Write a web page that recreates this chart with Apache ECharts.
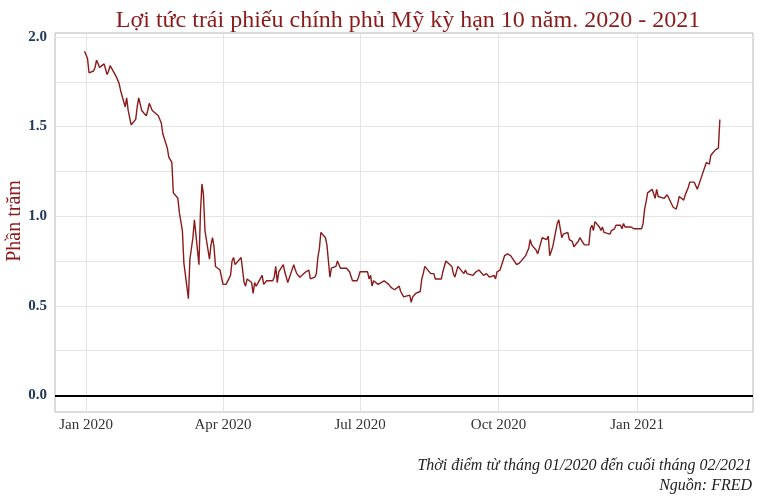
<!DOCTYPE html>
<html>
<head>
<meta charset="utf-8">
<script src="https://cdn.jsdelivr.net/npm/echarts@6/dist/echarts.min.js"></script>
<style>html,body{margin:0;padding:0;background:#fff}#c{width:760px;height:500px}</style>
</head>
<body>
<div id="c"></div>
<script>
const titleText = 'Lợi tức trái phiếu chính phủ Mỹ kỳ hạn 10 năm. 2020 - 2021';
const yAxisName = 'Phần trăm';
const captionLines = ['Thời điểm từ tháng 01/2020 đến cuối tháng 02/2021', 'Nguồn: FRED'];
const xTickDates = ['2020-01-01', '2020-04-01', '2020-07-01', '2020-10-01', '2021-01-01'];
const xTickLabels = ['Jan 2020', 'Apr 2020', 'Jul 2020', 'Oct 2020', 'Jan 2021'];
const yTickValues = [0, 0.5, 1.0, 1.5, 2.0];
const yGridValues = [0, 0.25, 0.5, 0.75, 1.0, 1.25, 1.5, 1.75, 2.0];

const dates = [
'2019-12-31',
'2020-01-02','2020-01-03','2020-01-06','2020-01-07','2020-01-08','2020-01-09','2020-01-10','2020-01-13','2020-01-14','2020-01-15','2020-01-16','2020-01-17','2020-01-21','2020-01-22','2020-01-23','2020-01-24','2020-01-27','2020-01-28','2020-01-29','2020-01-30','2020-01-31',
'2020-02-03','2020-02-04','2020-02-05','2020-02-06','2020-02-07','2020-02-10','2020-02-11','2020-02-12','2020-02-13','2020-02-14','2020-02-18','2020-02-19','2020-02-20','2020-02-21','2020-02-24','2020-02-25','2020-02-26','2020-02-27','2020-02-28',
'2020-03-02','2020-03-03','2020-03-04','2020-03-05','2020-03-06','2020-03-09','2020-03-10','2020-03-11','2020-03-12','2020-03-13','2020-03-16','2020-03-17','2020-03-18','2020-03-19','2020-03-20','2020-03-23','2020-03-24','2020-03-25','2020-03-26','2020-03-27','2020-03-30','2020-03-31',
'2020-04-01','2020-04-02','2020-04-03','2020-04-06','2020-04-07','2020-04-08','2020-04-09','2020-04-13','2020-04-14','2020-04-15','2020-04-16','2020-04-17','2020-04-20','2020-04-21','2020-04-22','2020-04-23','2020-04-24','2020-04-27','2020-04-28','2020-04-29','2020-04-30',
'2020-05-01','2020-05-04','2020-05-05','2020-05-06','2020-05-07','2020-05-08','2020-05-11','2020-05-12','2020-05-13','2020-05-14','2020-05-15','2020-05-18','2020-05-19','2020-05-20','2020-05-21','2020-05-22','2020-05-26','2020-05-27','2020-05-28','2020-05-29',
'2020-06-01','2020-06-02','2020-06-03','2020-06-04','2020-06-05','2020-06-08','2020-06-09','2020-06-10','2020-06-11','2020-06-12','2020-06-15','2020-06-16','2020-06-17','2020-06-18','2020-06-19','2020-06-22','2020-06-23','2020-06-24','2020-06-25','2020-06-26','2020-06-29','2020-06-30',
'2020-07-01','2020-07-02','2020-07-06','2020-07-07','2020-07-08','2020-07-09','2020-07-10','2020-07-13','2020-07-14','2020-07-15','2020-07-16','2020-07-17','2020-07-20','2020-07-21','2020-07-22','2020-07-23','2020-07-24','2020-07-27','2020-07-28','2020-07-29','2020-07-30','2020-07-31',
'2020-08-03','2020-08-04','2020-08-05','2020-08-06','2020-08-07','2020-08-10','2020-08-11','2020-08-12','2020-08-13','2020-08-14','2020-08-17','2020-08-18','2020-08-19','2020-08-20','2020-08-21','2020-08-24','2020-08-25','2020-08-26','2020-08-27','2020-08-28','2020-08-31',
'2020-09-01','2020-09-02','2020-09-03','2020-09-04','2020-09-08','2020-09-09','2020-09-10','2020-09-11','2020-09-14','2020-09-15','2020-09-16','2020-09-17','2020-09-18','2020-09-21','2020-09-22','2020-09-23','2020-09-24','2020-09-25','2020-09-28','2020-09-29','2020-09-30',
'2020-10-01','2020-10-02','2020-10-05','2020-10-06','2020-10-07','2020-10-08','2020-10-09','2020-10-13','2020-10-14','2020-10-15','2020-10-16','2020-10-19','2020-10-20','2020-10-21','2020-10-22','2020-10-23','2020-10-26','2020-10-27','2020-10-28','2020-10-29','2020-10-30',
'2020-11-02','2020-11-03','2020-11-04','2020-11-05','2020-11-06','2020-11-09','2020-11-10','2020-11-12','2020-11-13','2020-11-16','2020-11-17','2020-11-18','2020-11-19','2020-11-20','2020-11-23','2020-11-24','2020-11-25','2020-11-27','2020-11-30',
'2020-12-01','2020-12-02','2020-12-03','2020-12-04','2020-12-07','2020-12-08','2020-12-09','2020-12-10','2020-12-11','2020-12-14','2020-12-15','2020-12-16','2020-12-17','2020-12-18','2020-12-21','2020-12-22','2020-12-23','2020-12-24','2020-12-28','2020-12-29','2020-12-30','2020-12-31',
'2021-01-04','2021-01-05','2021-01-06','2021-01-07','2021-01-08','2021-01-11','2021-01-12','2021-01-13','2021-01-14','2021-01-15','2021-01-19','2021-01-20','2021-01-21','2021-01-22','2021-01-25','2021-01-26','2021-01-27','2021-01-28','2021-01-29',
'2021-02-01','2021-02-02','2021-02-03','2021-02-04','2021-02-05','2021-02-08','2021-02-09','2021-02-10','2021-02-11','2021-02-12','2021-02-16','2021-02-17','2021-02-18','2021-02-19','2021-02-22','2021-02-23','2021-02-24','2021-02-25'
];

const yields = [
1.92,
1.88,1.80,1.81,1.83,1.87,1.85,1.83,1.85,1.82,1.79,1.81,1.84,1.78,1.77,1.74,1.70,1.61,1.66,1.59,1.59,1.51,
1.54,1.61,1.66,1.65,1.59,1.56,1.59,1.63,1.62,1.59,1.56,1.57,1.52,1.46,1.38,1.33,1.33,1.30,1.13,
1.10,1.02,1.02,0.92,0.74,0.54,0.76,0.82,0.88,0.98,0.73,1.02,1.18,1.12,0.92,0.76,0.84,0.88,0.83,0.72,0.70,0.70,
0.62,0.63,0.62,0.67,0.75,0.77,0.73,0.77,0.76,0.63,0.61,0.65,0.63,0.57,0.63,0.61,0.60,0.67,0.62,0.63,0.64,
0.64,0.64,0.66,0.72,0.63,0.69,0.73,0.69,0.66,0.63,0.64,0.73,0.70,0.68,0.68,0.66,0.69,0.68,0.70,0.65,
0.66,0.68,0.77,0.82,0.91,0.88,0.84,0.75,0.66,0.71,0.72,0.75,0.74,0.71,0.70,0.71,0.72,0.69,0.68,0.64,0.64,0.66,
0.69,0.68,0.69,0.65,0.67,0.61,0.64,0.62,0.62,0.63,0.62,0.64,0.62,0.61,0.60,0.59,0.59,0.61,0.58,0.58,0.55,0.55,
0.56,0.52,0.55,0.55,0.57,0.58,0.65,0.68,0.72,0.71,0.68,0.67,0.68,0.65,0.64,0.65,0.69,0.69,0.75,0.74,0.72,
0.68,0.66,0.65,0.72,0.68,0.70,0.68,0.67,0.67,0.68,0.69,0.69,0.70,0.67,0.67,0.68,0.67,0.66,0.67,0.65,0.69,
0.68,0.70,0.78,0.79,0.79,0.78,0.78,0.73,0.73,0.74,0.75,0.78,0.80,0.82,0.87,0.84,0.81,0.79,0.78,0.85,0.88,
0.87,0.89,0.78,0.77,0.83,0.96,0.98,0.88,0.90,0.91,0.87,0.87,0.86,0.83,0.86,0.88,0.88,0.84,0.84,
0.93,0.95,0.92,0.97,0.94,0.92,0.94,0.91,0.90,0.90,0.92,0.92,0.93,0.95,0.95,0.93,0.96,0.94,0.94,0.94,0.93,0.93,
0.93,0.96,1.04,1.08,1.13,1.15,1.15,1.10,1.15,1.11,1.10,1.10,1.12,1.11,1.05,1.05,1.04,1.07,1.11,
1.09,1.12,1.14,1.16,1.19,1.19,1.17,1.15,1.16,1.20,1.30,1.29,1.29,1.34,1.37,1.37,1.38,1.54
];

function ts(s) {
  const p = s.split('-').map(Number);
  return Date.UTC(p[0], p[1] - 1, p[2]);
}
const lineData = dates.map((d, i) => [ts(d), yields[i]]);
const xTickTs = xTickDates.map(ts);
const DAY = 86400000;

const chart = echarts.init(document.getElementById('c'), null, {renderer: 'canvas'});
const serif = '"Liberation Serif", "DejaVu Serif", serif';
chart.setOption({
  animation: false,
  backgroundColor: '#ffffff',
  title: {
    text: titleText,
    left: 403,
    top: 4,
    textAlign: 'center',
    textStyle: {fontFamily: serif, fontSize: 24, fontWeight: 'normal', color: '#8b1a1a'}
  },
  grid: {left: 55, right: 7, top: 33, bottom: 88, show: true, borderColor: '#b8b8b8', borderWidth: 1,
         backgroundColor: 'transparent', containLabel: false, outerBoundsMode: 'none'},
  xAxis: {
    type: 'value',
    min: ts('2020-01-01') - 20.6 * DAY,
    max: ts('2021-01-01') + 77 * DAY,
    axisLine: {show: false},
    axisTick: {show: false, customValues: xTickTs},
    axisLabel: {
      customValues: xTickTs,
      margin: 6,
      fontFamily: serif, fontSize: 15, color: '#333333',
      formatter: function (v) {
        const i = xTickTs.indexOf(+v);
        return i >= 0 ? xTickLabels[i] : '';
      }
    },
    splitLine: {show: true, lineStyle: {color: '#e4e4e4', width: 1}}
  },
  yAxis: {
    type: 'value',
    min: -0.092,
    max: 2.022,
    axisLine: {show: false},
    axisTick: {show: false, customValues: yGridValues},
    axisLabel: {
      customValues: yTickValues,
      margin: 8,
      fontFamily: serif, fontSize: 15, fontWeight: 'bold', color: '#23395b',
      formatter: v => (+v).toFixed(1)
    },
    splitLine: {show: true, lineStyle: {color: '#e4e4e4', width: 1}}
  },
  series: [{
    type: 'line',
    data: lineData,
    showSymbol: false,
    symbol: 'none',
    lineStyle: {color: '#8b1a1a', width: 1.4},
    markLine: {
      silent: true,
      symbol: 'none',
      label: {show: false},
      lineStyle: {color: '#000000', width: 1.8, type: 'solid'},
      data: [{yAxis: 0}]
    }
  }],
  graphic: [
    {type: 'text', x: 15, y: 221, rotation: Math.PI / 2,
     style: {text: yAxisName, font: '20px "Liberation Serif", serif', fill: '#8b1a1a', textAlign: 'center', textVerticalAlign: 'middle'}},
    {type: 'text', right: 8, top: 458, style: {text: captionLines[0], font: 'italic 16px "Liberation Serif", serif', fill: '#222222', textAlign: 'right'}},
    {type: 'text', right: 8, top: 478, style: {text: captionLines[1], font: 'italic 16px "Liberation Serif", serif', fill: '#222222', textAlign: 'right'}}
  ]
});
</script>
</body>
</html>
